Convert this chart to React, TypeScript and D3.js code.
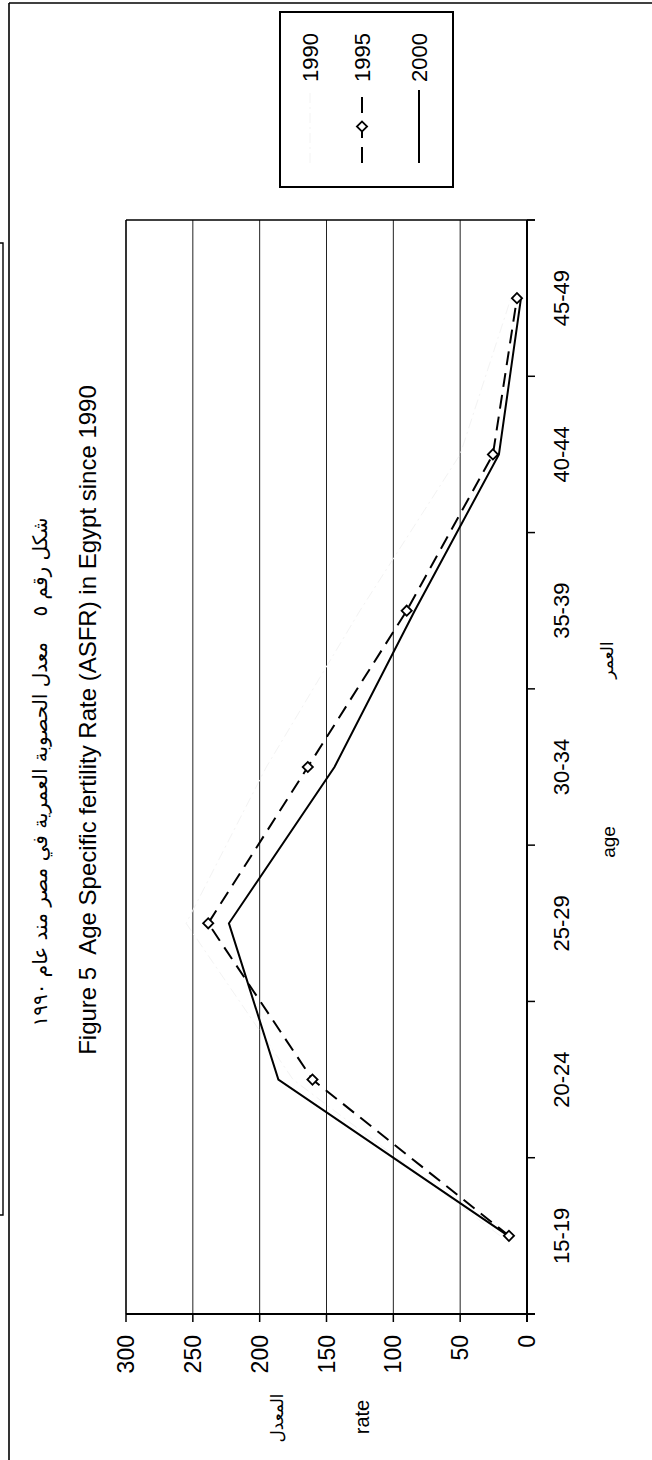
import React from 'react';
import * as d3 from 'd3';

const categories = ["15-19", "20-24", "25-29", "30-34", "35-39", "40-44", "45-49"];
const rate1990 = [20, 175, 255, 195, 125, 50, 12];
const rate1995 = [13.5, 160.5, 238.5, 164, 90, 25.5, 7.5];
const rate2000 = [14, 186, 223, 144, 84, 21, 4.5];
const valueTicks = [0, 50, 100, 150, 200, 250, 300];
const legendLabels = ["1990", "1995", "2000"];

const NB = '\u00A0';
const titleAr = `شكل رقم ٥${NB}${NB}${NB} معدل الحصوبة العمرية في مصر مند عام ١٩٩٠`;
const titleEn = `Figure 5${NB} Age Specific fertility Rate (ASFR) in Egypt since 1990`;

const PAGE_W = 652;
const PAGE_H = 1460;
const FONT = "'Liberation Sans', Arial, sans-serif";
const AR_FONT = "'DejaVu Sans', sans-serif";
const FADED = '#f3f3f3';

export default function App() {
  // landscape frame (rotated -90deg onto the page)
  const x = d3.scaleBand<string>().domain(categories).range([146, 1240]).paddingInner(0).paddingOuter(0);
  const y = d3.scaleLinear().domain([0, 300]).range([527, 126]);
  const cx = (i: number) => (x(categories[i]) as number) + x.bandwidth() / 2;
  const lineGen = d3.line<number>().x((_, i) => cx(i)).y((d) => y(d));
  const diamond = d3.symbol().type(d3.symbolSquare).size(52)() as string;

  const [u0, u1] = x.range();
  const boundaries = categories.map((c) => x(c) as number).concat([u1]);

  const legendSeries = [
    { label: legendLabels[0], v: 310, stroke: FADED, dash: '10,4,2,4', width: 1, marker: false },
    { label: legendLabels[1], v: 362, stroke: '#000', dash: '16,9', width: 2, marker: true },
    { label: legendLabels[2], v: 419, stroke: '#000', dash: null, width: 2, marker: false },
  ];

  return (
    <svg width={PAGE_W} height={PAGE_H} style={{ position: 'absolute', left: 0, top: 0, display: 'block', background: '#fff' }}>
      <rect x={0} y={0} width={PAGE_W} height={PAGE_H} fill="#fff" />
      <g transform={`translate(0,${PAGE_H}) rotate(-90)`} fontFamily={FONT} fill="#000">
        {/* gridlines */}
        {valueTicks.filter((t) => t > 0 && t < 300).map((t) => (
          <line key={'g' + t} x1={u0} x2={u1} y1={y(t)} y2={y(t)} stroke="#222" strokeWidth={1} />
        ))}
        {/* plot border top (value 300) */}
        <line x1={u0} x2={u1} y1={y(300)} y2={y(300)} stroke="#000" strokeWidth={1.6} />
        {/* right edge of plot */}
        <line x1={u1} x2={u1} y1={y(300)} y2={y(0) + 8} stroke="#000" strokeWidth={1.6} />
        {/* value axis */}
        <line x1={u0} x2={u0} y1={y(300)} y2={y(0) + 8} stroke="#000" strokeWidth={2} />
        {valueTicks.map((t) => (
          <line key={'vt' + t} x1={u0 - 8} x2={u0} y1={y(t)} y2={y(t)} stroke="#000" strokeWidth={1.5} />
        ))}
        {valueTicks.map((t) => (
          <text key={'vl' + t} x={125} y={y(t)} dy="0.35em" textAnchor="end" fontSize={23}>{t}</text>
        ))}
        {/* category axis */}
        <line x1={u0 - 8} x2={u1} y1={y(0)} y2={y(0)} stroke="#000" strokeWidth={2} />
        {boundaries.map((b, i) => (
          <line key={'ct' + i} x1={b} x2={b} y1={y(0)} y2={y(0) + 8} stroke="#000" strokeWidth={1.5} />
        ))}
        {categories.map((c, i) => (
          <text key={'cl' + c} x={cx(i)} y={561} dy="0.35em" textAnchor="middle" fontSize={22}>{c}</text>
        ))}

        {/* series (1990 is faded out in the scan) */}
        <path d={lineGen(rate1990) as string} fill="none" stroke={FADED} strokeWidth={1} strokeDasharray="10,4,2,4" />
        <path d={lineGen(rate2000) as string} fill="none" stroke="#000" strokeWidth={2} />
        <path d={lineGen(rate1995) as string} fill="none" stroke="#000" strokeWidth={2} strokeDasharray="14,8" />
        {rate1995.map((d, i) => (
          <path key={'m' + i} d={diamond} transform={`translate(${cx(i)},${y(d)}) rotate(45)`} fill="#fff" stroke="#000" strokeWidth={1.8} />
        ))}

        {/* titles */}
        <text x={688} y={40} dy="0.35em" textAnchor="middle" fontSize={20} fontFamily={AR_FONT} direction="rtl">{titleAr}</text>
        <text x={740} y={88} dy="0.35em" textAnchor="middle" fontSize={24}>{titleEn}</text>

        {/* axis titles */}
        <text x={618} y={608} dy="0.35em" textAnchor="middle" fontSize={19}>age</text>
        <text x={800} y={607} dy="0.35em" textAnchor="middle" fontSize={17} fontFamily={AR_FONT} direction="rtl">العمر</text>
        <text x={43} y={362} dy="0.35em" textAnchor="middle" fontSize={20}>rate</text>
        <text x={42} y={277} dy="0.35em" textAnchor="middle" fontSize={17} fontFamily={AR_FONT} direction="rtl">المعدل</text>

        {/* legend */}
        <rect x={1273} y={280} width={175} height={173} fill="#fff" stroke="#000" strokeWidth={2} />
        {legendSeries.map((s) => (
          <g key={'lg' + s.label}>
            <line x1={1297} x2={1370} y1={s.v} y2={s.v} stroke={s.stroke} strokeWidth={s.width} strokeDasharray={s.dash || undefined} />
            {s.marker && (
              <path d={diamond} transform={`translate(${(1297 + 1370) / 2},${s.v}) rotate(45)`} fill="#fff" stroke="#000" strokeWidth={1.8} />
            )}
            <text x={1378} y={s.v} dy="0.35em" fontSize={22}>{s.label}</text>
          </g>
        ))}
      </g>
      {/* page frames */}
      <line x1={9} x2={PAGE_W} y1={3} y2={3} stroke="#000" strokeWidth={1.6} />
      <line x1={9} x2={9} y1={3} y2={PAGE_H} stroke="#000" strokeWidth={1.6} />
      <path d="M0,243 H3 V1215 H0" fill="none" stroke="#000" strokeWidth={1.4} />
    </svg>
  );
}
